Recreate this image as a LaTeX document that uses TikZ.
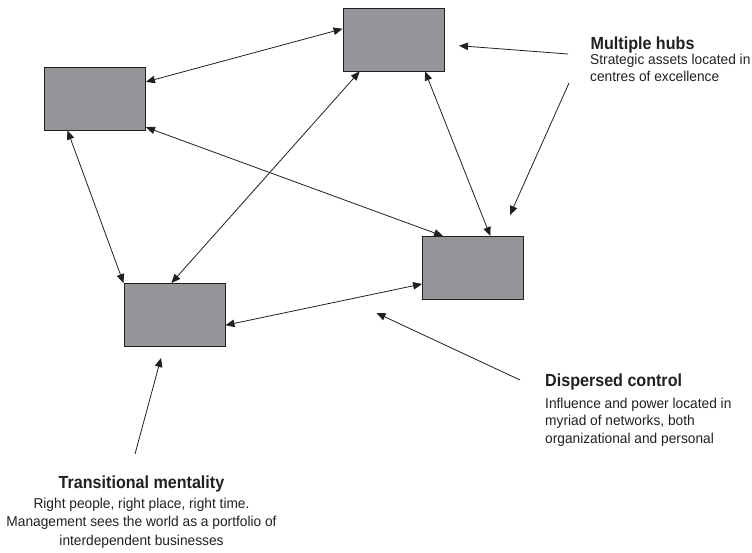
\documentclass[tikz,border=0pt]{standalone}
\usepackage{fontspec}
\setmainfont{Liberation Sans}
\newfontfamily\labelfont{Liberation Sans}[FakeStretch=0.96]
\newfontfamily\headfont{Liberation Sans}[FakeStretch=0.92]
\usetikzlibrary{arrows.meta,calc}
\definecolor{boxgray}{HTML}{939598}
\definecolor{ink}{HTML}{231F20}
\begin{document}
\begin{tikzpicture}[x=1pt,y=-1pt,
  hub/.style={draw=ink, line width=0.9pt, fill=boxgray, inner sep=0pt,
              minimum width=101pt, minimum height=63pt},
  link/.style={draw=ink, line width=0.8pt, {Triangle[length=9pt,width=7.5pt]}-{Triangle[length=9pt,width=7.5pt]}},
  pointer/.style={draw=ink, line width=0.8pt, -{Triangle[length=9pt,width=7.5pt]}},
  headline/.style={inner sep=0pt, text=ink, font=\headfont\fontsize{17.5}{20}\selectfont\bfseries},
  bodyline/.style={inner sep=0pt, text=ink, font=\labelfont\fontsize{14.3}{17}\selectfont}]
\useasboundingbox (0,0) rectangle (752,553);

% the four hubs
\node[hub] (A) at (393.5,39.5) {};
\node[hub] (B) at (95,98.5) {};
\node[hub] (C) at (473,268) {};
\node[hub] (D) at (174.5,315) {};

% two-way links between hubs
\draw[link] ($(B.north east)!0.24!(B.south east)$) -- ($(A.north west)!0.333!(A.south west)$);
\draw[link] ($(B.north east)!0.95!(B.south east)$) -- ($(C.north west)!0.206!(C.north east)$);
\draw[link] ($(A.south west)!0.168!(A.south east)$) -- ($(D.north west)!0.47!(D.north east)$);
\draw[link] ($(A.south west)!0.81!(A.south east)$) -- ($(C.north west)!0.67!(C.north east)$);
\draw[link] ($(B.south west)!0.23!(B.south east)$) -- (D.north west);
\draw[link] ($(D.north east)!0.66!(D.south east)$) -- ($(C.north west)!0.75!(C.south west)$);

% Multiple hubs
\node[headline, anchor=base west] (mh) at (590.5,49.5) {Multiple hubs};
\node[bodyline, anchor=base west] (mh1) at (590,65) {Strategic assets located in};
\node[bodyline, anchor=base west] (mh2) at (590,81.7) {centres of excellence};
\coordinate (mhA) at (568,54);
\coordinate (mhAend) at (459,45.7);
\coordinate (mhB) at (569,83);
\coordinate (mhBend) at (510,215);
\draw[pointer] (mhA) -- (mhAend);
\draw[pointer] (mhB) -- (mhBend);

% Dispersed control
\node[headline, anchor=base west] (dc) at (545,386.7) {Dispersed control};
\node[bodyline, anchor=base west] (dc1) at (545,408.3) {Influence and power located in};
\node[bodyline, anchor=base west] (dc2) at (545,425.6) {myriad of networks, both};
\node[bodyline, anchor=base west] (dc3) at (545,443) {organizational and personal};
\coordinate (dcA) at (520,380);
\coordinate (dcAend) at (376.5,313);
\draw[pointer] (dcA) -- (dcAend);

% Transitional mentality
\node[headline, anchor=base] (tm) at (141.5,488.3) {Transitional mentality};
\node[bodyline, anchor=base] (tm1) at (141.5,508) {Right people, right place, right time.};
\node[bodyline, anchor=base] (tm2) at (141.5,526.7) {Management sees the world as a portfolio of};
\node[bodyline, anchor=base] (tm3) at (141.5,545) {interdependent businesses};
\coordinate (tmA) at (135,454);
\coordinate (tmAend) at (161,358);
\draw[pointer] (tmA) -- (tmAend);
\end{tikzpicture}
\end{document}
